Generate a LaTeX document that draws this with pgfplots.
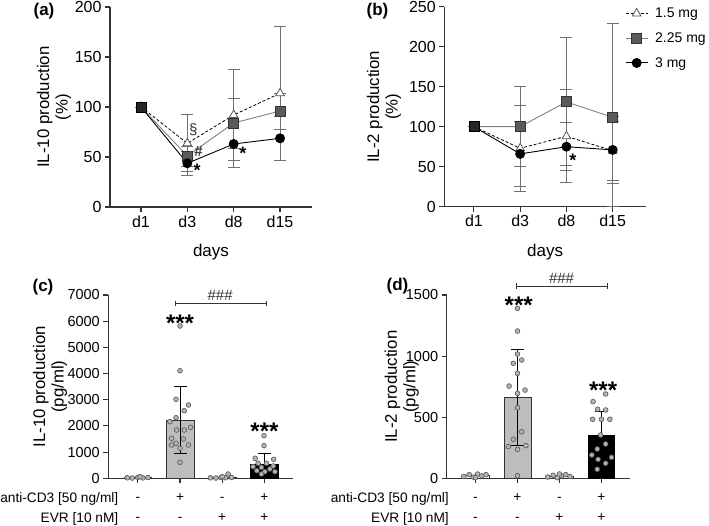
\documentclass[border=0pt]{standalone}
\usepackage{pgfplots}
\pgfplotsset{compat=1.18}
\usepackage{fontspec}
\setmainfont{Liberation Sans}
\definecolor{axc}{HTML}{333333}
\definecolor{errc}{HTML}{707070}
\definecolor{sqfill}{HTML}{5A5A5A}
\definecolor{sqline}{HTML}{808080}
\definecolor{trid}{HTML}{555555}
\definecolor{barg}{HTML}{BDBDBD}
\definecolor{dotf}{HTML}{B3B3B3}
\definecolor{dotd}{HTML}{555555}
\definecolor{hashc}{HTML}{333333}
\tikzset{pm/.style={font=\fontsize{13.7}{16}\selectfont, anchor=base}}
\begin{document}
\begin{tikzpicture}[x=1pt,y=1pt]
\useasboundingbox (0,0) rectangle (709,525);
\pgfplotsset{
  myaxis/.style={scale only axis, anchor=south west, axis lines=left,
    axis line style={-, line width=1.1pt, color=axc},
    every tick/.style={line width=1.1pt, color=axc},
    tick align=outside, major tick length=5pt,
    tick label style={font=\fontsize{16}{18}\selectfont, color=black},
    /pgf/number format/assume math mode=true,
    /pgf/number format/1000 sep={},
    scaled y ticks=false,
    ylabel style={align=center, font=\fontsize{16.8}{18.5}\selectfont, anchor=center},
    xlabel style={font=\fontsize{17}{19}\selectfont, anchor=center}},
  lineerr/.style={error bars/.cd, y dir=both, y explicit,
    error bar style={color=errc, line width=0.8pt, solid},
    error mark options={rotate=90, mark size=6pt, line width=0.8pt, color=errc, solid}},
  barerr/.style={error bars/.cd, y dir=both, y explicit,
    error bar style={color=black, line width=0.9pt},
    error mark options={rotate=90, mark size=6.5pt, line width=0.9pt, color=black}},
  s15/.style={color=black, line width=0.8pt, dash pattern=on 3pt off 2pt, mark=triangle*, mark size=5pt, mark options={solid, fill=white, draw=trid, line width=0.8pt}},
  s225/.style={color=sqline, line width=0.9pt, mark=square*, mark size=5pt, mark options={fill=sqfill, draw=axc, line width=0.8pt}},
  s3/.style={color=black, line width=0.9pt, mark=*, mark size=4.5pt, mark options={fill=black, draw=black}},
  dots/.style={only marks, mark=*, mark size=2.4pt, mark options={fill=dotf, draw=dotd, line width=0.6pt}},
}
% ---------------- (a)
\begin{axis}[myaxis, at={(110pt,318pt)}, width=202pt, height=200pt,
  xmin=-0.669, xmax=3.69, ymin=0, ymax=200,
  xtick={0,1,2,3}, xticklabels={d1,d3,d8,d15}, ytick={0,50,100,150,200},
  xlabel={days}, xlabel style={at={(axis description cs:0.5,-0.228)}},
  ylabel={IL-10 production\\(\%)}, ylabel style={at={(axis description cs:-0.277,0.5)}}]
\addplot[s15, lineerr] coordinates {(0,100) +- (0,0) (1,63.7) +- (0,28.5) (2,92) +- (0,45.7) (3,113.7) +- (0,67.3)};
\addplot[s225, lineerr] coordinates {(0,100) +- (0,0) (1,51) +- (0,10) (2,84) +- (0,25) (3,96) +- (0,18)};
\addplot[s3, lineerr] coordinates {(0,100) +- (0,0) (1,43.7) +- (0,11.7) (2,63) +- (0,23) (3,68.7) +- (0,21.7)};
\addplot[only marks, mark=square*, mark size=5pt, mark options={fill=black!85, draw=black}] coordinates {(0,100)};
\node[font=\fontsize{15}{16}\selectfont, color=hashc] at (axis cs:1.13,77) {§};
\node[font=\fontsize{15}{16}\selectfont\bfseries, color=hashc] at (axis cs:1.24,55.3) {\#};
\node[font=\fontsize{18}{20}\selectfont\bfseries, anchor=base] at (axis cs:1.21,30) {*};
\node[font=\fontsize{18}{20}\selectfont\bfseries, anchor=base] at (axis cs:2.20,47) {*};
\end{axis}
% ---------------- (b)
\begin{axis}[myaxis, at={(444.3pt,318.3pt)}, width=201.7pt, height=200pt,
  xmin=-0.64, xmax=3.72, ymin=0, ymax=250,
  xtick={0,1,2,3}, xticklabels={d1,d3,d8,d15}, ytick={0,50,100,150,200,250},
  xlabel={days}, xlabel style={at={(axis description cs:0.5,-0.228)}},
  ylabel={IL-2 production\\(\%)}, ylabel style={at={(axis description cs:-0.299,0.5)}},
  legend style={at={(0.896,1.005)}, anchor=north west, draw=none, fill=none,
    font=\fontsize{14}{16}\selectfont, row sep=9.5pt, inner sep=0pt, cells={anchor=west}},
  legend image code/.code={\draw[mark repeat=2,mark phase=2] plot coordinates {(0pt,0pt)(11pt,0pt)(22pt,0pt)};}]
\addplot[s15, lineerr] coordinates {(0,100) +- (0,0) (1,73) +- (0,54) (2,88) +- (0,58) (3,70) +- (0,37)};
\addlegendentry{\hspace{5pt}1.5 mg}
\addplot[s225, lineerr] coordinates {(0,100) +- (0,0) (1,100) +- (0,50) (2,131) +- (0,80) (3,111.7) += (0,117.3) -= (0,111.7)};
\addlegendentry{\hspace{5pt}2.25 mg}
\addplot[s3, lineerr] coordinates {(0,100) +- (0,0) (1,66) +- (0,41) (2,75) +- (0,30) (3,71) +- (0,42)};
\addlegendentry{\hspace{5pt}3 mg}
\addplot[forget plot, only marks, mark=square*, mark size=5pt, mark options={fill=black!85, draw=black}] coordinates {(0,100)};
\node[font=\fontsize{18}{20}\selectfont\bfseries, anchor=base] at (axis cs:2.14,50.6) {*};
\end{axis}
% ---------------- (c)
\begin{axis}[myaxis, at={(108.3pt,46.7pt)}, width=184.4pt, height=183.3pt,
  xmin=-0.70, xmax=3.67, ymin=0, ymax=7000, ytick={0,1000,...,7000},
  tick label style={font=\fontsize{14.5}{16}\selectfont},
  xtick={0,1,2,3}, xticklabels={,,,}, clip=false,
  ylabel={IL-10 production\\(pg/ml)}, ylabel style={at={(axis description cs:-0.316,0.5)}}]
\addplot[ybar, bar width=0.66, fill=white, draw=axc, line width=0.8pt] coordinates {(0,20)};
\addplot[ybar, bar width=0.66, fill=barg, draw=axc, line width=0.8pt, barerr] coordinates {(1,2226) +- (0,1271)};
\addplot[ybar, bar width=0.66, fill=white, draw=axc, line width=0.8pt] coordinates {(2,40)};
\addplot[ybar, bar width=0.66, fill=black, draw=black, line width=0.8pt, barerr] coordinates {(3,535) +- (0,420)};
\addplot[dots] coordinates {(-0.25,20) (-0.13,10) (0,40) (0.12,15) (0.24,30) (0.05,60)};
\addplot[dots] coordinates {(1.00,5816) (1.00,4109) (0.905,3017) (1.20,2799) (1.10,2582) (0.905,2314) (0.76,2162) (1.25,1947) (0.92,1844) (1.10,1844) (0.80,1527) (1.08,1500) (0.905,1336) (0.80,1272) (1.20,1272) (1.00,1145) (1.00,611)};
\addplot[dots] coordinates {(1.72,20) (1.85,10) (1.97,30) (2.08,20) (2.14,164) (2.22,30) (2.0,60)};
\addplot[dots] coordinates {(2.99,1627) (2.99,1245) (2.78,764) (3.22,725) (2.85,573) (3.05,573) (3.21,470) (2.73,445) (2.93,420) (3.13,355) (2.82,291) (3.01,253) (3.25,253) (2.93,164)};
\draw[line width=0.8pt, color=axc] (axis cs:0.88,6683) -- (axis cs:3.05,6683);
\draw[line width=0.8pt, color=axc] (axis cs:0.88,6580) -- (axis cs:0.88,6786);
\draw[line width=0.8pt, color=axc] (axis cs:3.05,6580) -- (axis cs:3.05,6786);
\node[font=\fontsize{15}{17}\selectfont, color=hashc, anchor=base] at (axis cs:1.95,6790) {\#\#\#};
\node[font=\fontsize{24}{26}\selectfont\bfseries, anchor=base] at (axis cs:1.0,5625) {***};
\node[font=\fontsize{24}{26}\selectfont\bfseries, anchor=base] at (axis cs:3.0,1474) {***};
\node[pm] at (axis cs:0,-902) {-};
\node[pm] at (axis cs:1,-902) {+};
\node[pm] at (axis cs:2,-902) {-};
\node[pm] at (axis cs:3,-902) {+};
\node[pm] at (axis cs:0,-1666) {-};
\node[pm] at (axis cs:1,-1666) {-};
\node[pm] at (axis cs:2,-1666) {+};
\node[pm] at (axis cs:3,-1666) {+};
\end{axis}
% ---------------- (d)
\begin{axis}[myaxis, at={(446.7pt,46.7pt)}, width=183.3pt, height=183.3pt,
  xmin=-0.686, xmax=3.68, ymin=0, ymax=1500, ytick={0,500,1000,1500},
  tick label style={font=\fontsize{14.5}{16}\selectfont},
  xtick={0,1,2,3}, xticklabels={,,,}, clip=false,
  ylabel={IL-2 production\\(pg/ml)}, ylabel style={at={(axis description cs:-0.245,0.5)}}]
\addplot[ybar, bar width=0.64, fill=white, draw=axc, line width=0.8pt] coordinates {(0,20)};
\addplot[ybar, bar width=0.64, fill=barg, draw=axc, line width=0.8pt, barerr] coordinates {(1,663) +- (0,392)};
\addplot[ybar, bar width=0.64, fill=white, draw=axc, line width=0.8pt] coordinates {(2,15)};
\addplot[ybar, bar width=0.64, fill=black, draw=black, line width=0.8pt, barerr] coordinates {(3,352) +- (0,193)};
\addplot[dots] coordinates {(-0.28,15) (-0.15,30) (-0.05,10) (0.05,35) (0.15,20) (0.25,30) (0.0,5)};
\addplot[dots] coordinates {(1.00,1391) (1.00,1205) (1.00,1017) (0.90,941) (1.10,968) (1.00,859) (0.80,755) (1.18,722) (1.00,695) (1.00,578) (1.10,381) (0.90,319) (0.78,259) (1.00,237) (1.20,267) (1.00,21)};
\addplot[dots] coordinates {(1.72,10) (1.85,25) (1.95,5) (2.05,20) (2.15,30) (2.25,15) (2.0,35)};
\addplot[dots] coordinates {(3.10,690) (2.80,627) (2.91,565) (3.10,559) (2.79,483) (3.00,483) (3.20,483) (2.98,354) (2.90,240) (3.10,281) (2.77,191) (3.24,172) (2.92,155) (3.10,123) (2.90,74)};
\draw[line width=0.8pt, color=axc] (axis cs:0.964,1574) -- (axis cs:3.13,1574);
\draw[line width=0.8pt, color=axc] (axis cs:0.964,1552) -- (axis cs:0.964,1596);
\draw[line width=0.8pt, color=axc] (axis cs:3.13,1552) -- (axis cs:3.13,1596);
\node[font=\fontsize{15}{17}\selectfont, color=hashc, anchor=base] at (axis cs:2.05,1598) {\#\#\#};
\node[font=\fontsize{24}{26}\selectfont\bfseries, anchor=base] at (axis cs:1.03,1347) {***};
\node[font=\fontsize{24}{26}\selectfont\bfseries, anchor=base] at (axis cs:3.04,649) {***};
\node[pm] at (axis cs:0,-193) {-};
\node[pm] at (axis cs:1,-193) {+};
\node[pm] at (axis cs:2,-193) {-};
\node[pm] at (axis cs:3,-193) {+};
\node[pm] at (axis cs:0,-357) {-};
\node[pm] at (axis cs:1,-357) {-};
\node[pm] at (axis cs:2,-357) {+};
\node[pm] at (axis cs:3,-357) {+};
\end{axis}
% ---------------- row labels and panel labels
\node[pm, anchor=base east, inner xsep=0pt] at (118.5,22.5) {anti-CD3 [50 ng/ml]};
\node[pm, anchor=base east, inner xsep=0pt] at (118.5,3) {EVR [10 nM]};
\node[pm, anchor=base east, inner xsep=0pt] at (449,22.5) {anti-CD3 [50 ng/ml]};
\node[pm, anchor=base east, inner xsep=0pt] at (449,3) {EVR [10 nM]};
\node[font=\fontsize{17}{19}\selectfont\bfseries] at (44,514) {(a)};
\node[font=\fontsize{17}{19}\selectfont\bfseries] at (377.5,514) {(b)};
\node[font=\fontsize{17}{19}\selectfont\bfseries] at (43,238) {(c)};
\node[font=\fontsize{17}{19}\selectfont\bfseries] at (397.5,239) {(d)};
\end{tikzpicture}
\end{document}
